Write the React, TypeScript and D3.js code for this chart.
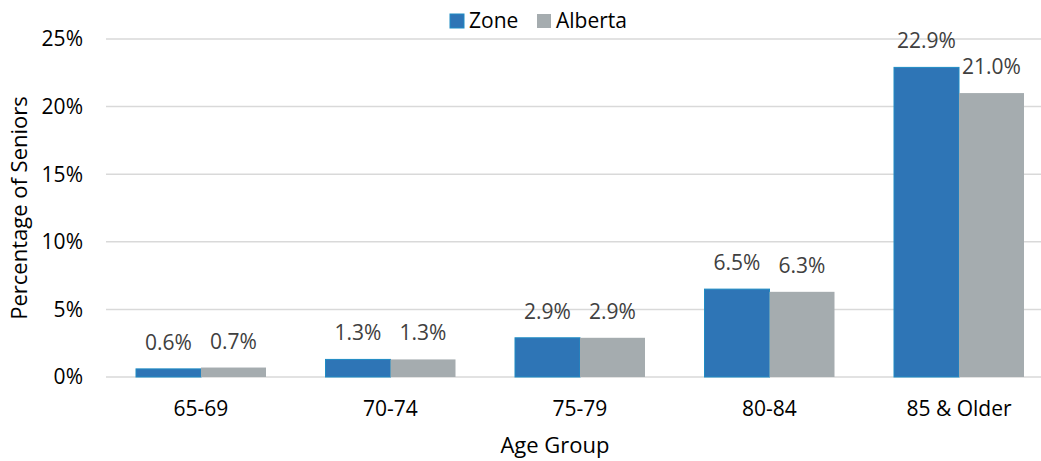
import React from "react";
import * as d3 from "d3";

const categories = ["65-69", "70-74", "75-79", "80-84", "85 & Older"];
const seriesNames = ["Zone", "Alberta"];
const zoneValues = [0.6, 1.3, 2.9, 6.5, 22.9];
const albertaValues = [0.7, 1.3, 2.9, 6.3, 21.0];
const yTicks = [0, 5, 10, 15, 20, 25];
const colors = ["#2e75b6", "#a5acaf"];

const W = 1041;
const H = 461;
const FONT = "'Open Sans', 'Noto Sans', sans-serif";

export default function App() {
  const x0 = d3
    .scaleBand<string>()
    .domain(categories)
    .range([106.25, 1053.75])
    .paddingInner(0.314)
    .paddingOuter(0.157);
  const x1 = d3
    .scaleBand<string>()
    .domain(seriesNames)
    .range([0, x0.bandwidth()])
    .padding(0);
  const y = d3.scaleLinear().domain([0, 25]).range([377, 39]);
  const series = [zoneValues, albertaValues];

  return (
    <svg
      width={W}
      height={H}
      style={{ position: "absolute", left: 0, top: 0, background: "#fff" }}
      fontFamily={FONT}
    >
      {yTicks.map((t) => (
        <g key={t}>
          <line x1={106} x2={W} y1={y(t)} y2={y(t)} stroke="#d9d9d9" strokeWidth={1.5} />
          <text
            x={83}
            y={y(t)}
            dy="0.35em"
            textAnchor="end"
            fontSize={21}
            fill="#000"
          >
            {t}%
          </text>
        </g>
      ))}
      {categories.map((c, i) => (
        <g key={c} transform={`translate(${x0(c)},0)`}>
          {seriesNames.map((s, j) => {
            const v = series[j][i];
            const bx = x1(s)!;
            const bw = x1.bandwidth();
            return (
              <g key={s}>
                <rect
                  x={bx}
                  y={y(v)}
                  width={bw}
                  height={y(0) - y(v)}
                  fill={colors[j]}
                  stroke={j === 0 ? "#1f8cc4" : "none"}
                  strokeWidth={j === 0 ? 1 : 0}
                />
                <text
                  x={bx + bw / 2}
                  y={y(v) - 19}
                  textAnchor="middle"
                  fontSize={21}
                  fill="#404040"
                >
                  {v.toFixed(1)}%
                </text>
              </g>
            );
          })}
          <text
            x={x0.bandwidth() / 2}
            y={416}
            textAnchor="middle"
            fontSize={21}
            fill="#000"
          >
            {c}
          </text>
        </g>
      ))}
      <text x={555} y={453} textAnchor="middle" fontSize={22} fill="#000">
        Age Group
      </text>
      <text
        transform={`translate(27,208) rotate(-90)`}
        textAnchor="middle"
        fontSize={22}
        fill="#000"
      >
        Percentage of Seniors
      </text>
      <g>
        <rect x={450} y={14} width={14} height={14} fill={colors[0]} stroke="#1f8cc4" strokeWidth={1} />
        <text x={469} y={28} fontSize={21} fill="#000">
          {seriesNames[0]}
        </text>
        <rect x={537} y={14} width={14} height={14} fill={colors[1]} />
        <text x={556} y={28} fontSize={21} fill="#000">
          {seriesNames[1]}
        </text>
      </g>
    </svg>
  );
}
